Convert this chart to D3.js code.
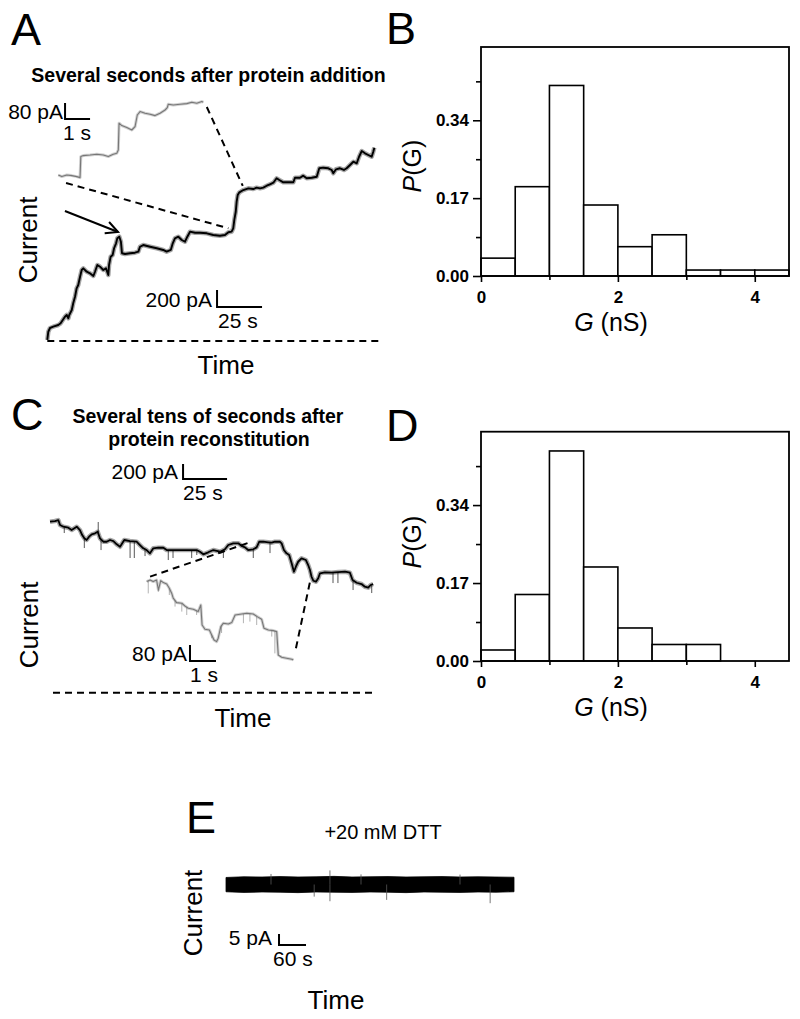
<!DOCTYPE html>
<html><head><meta charset="utf-8">
<script src="https://cdn.jsdelivr.net/npm/d3@7"></script>
<style>
body{margin:0;background:#fff}
svg text{font-family:"Liberation Sans",Arial,sans-serif;fill:#000}
</style>
</head><body>
<svg id="fig" width="800" height="1019"></svg>
<script>
// ---------------- DATA ----------------
// Histograms (P(G) per 0.5 nS bin)
const binEdges = [0, 0.5, 1, 1.5, 2, 2.5, 3, 3.5, 4, 4.5];
const histB = [0.039, 0.195, 0.416, 0.155, 0.064, 0.090, 0.013, 0.013, 0.013];
const histD = [0.024, 0.145, 0.458, 0.205, 0.072, 0.036, 0.036, 0, 0];
const gMajorTicks = [0, 2, 4];
const gMinorTicks = [1, 3];
const pMajorTicks = [0, 0.17, 0.34];
const pMinorTicks = [0.085, 0.255, 0.425];

// Panel A main trace [time s, current pA]
const traceA = [[0,12],[0.56,109],[1.5,153],[3.3,168],[6.1,188],[7.4,208],[8.6,247],[9.8,286],[10.8,306],[11.7,267],[12.2,306],[13.6,365],[14.4,444],[15.4,521],[16.3,620],[17.2,659],[18.2,756],[19.1,835],[20.0,855],[21.9,815],[23.7,796],[25.6,765],[26.5,815],[27.8,894],[29.3,874],[31.1,835],[32.6,855],[33.9,776],[34.3,894],[35.2,992],[36.3,1012],[37.1,1091],[38.2,1149],[38.9,1208],[40.0,1227],[40.9,1168],[41.5,1032],[43.2,1024],[46.0,1032],[48.7,1039],[50.6,1051],[51.5,1109],[53.3,1129],[57.1,1109],[60.8,1091],[64.4,1071],[66.3,1051],[68.6,1071],[69.7,1149],[70.9,1208],[72.8,1227],[74.7,1188],[76.5,1168],[77.8,1227],[79.3,1286],[82.1,1274],[84.8,1274],[88.6,1267],[92.2,1247],[95.9,1239],[98.7,1247],[100.6,1279],[102.4,1286],[103.3,1326],[103.9,1424],[104.7,1521],[105.2,1639],[105.8,1718],[106.7,1749],[108.9,1776],[111.7,1796],[114.4,1788],[116.3,1804],[118.2,1796],[120.0,1804],[121.9,1827],[123.7,1844],[125.6,1862],[127.4,1914],[128.9,1894],[131.1,1867],[133.9,1867],[136.7,1867],[137.6,1921],[140.4,1921],[142.2,1945],[144.1,1914],[146.9,1921],[149.7,1933],[151.1,2032],[153.3,2039],[156.1,2032],[158.0,2012],[158.9,1973],[160.4,2020],[162.6,2032],[164.8,2012],[166.3,2032],[168.2,2071],[170.0,2109],[171.9,2091],[173.2,2168],[174.7,2235],[176.5,2208],[178.3,2188],[180.2,2168],[181.1,2227],[181.7,2274]];
// Panel A inset trace [time s, current pA]
const insetA = [[0,25],[0.14,17],[0.34,25],[0.54,22],[0.74,17],[0.87,12],[0.90,117],[1.00,122],[1.27,125],[1.54,129],[1.80,125],[2.00,117],[2.20,129],[2.34,134],[2.40,150],[2.43,284],[2.54,272],[2.74,262],[2.94,250],[3.07,267],[3.16,325],[3.27,342],[3.47,334],[3.67,329],[3.87,322],[4.07,334],[4.27,350],[4.36,362],[4.40,379],[4.60,375],[4.87,379],[5.14,382],[5.34,389],[5.54,384],[5.74,392],[5.80,389]];

// Panel C main trace [time s, current pA]
const traceC = [[0,2280],[2.8,2289],[4.7,2302],[5.7,2236],[7.6,2213],[10.4,2200],[12.3,2169],[15.2,2213],[17.0,2169],[18.3,2102],[19.5,2058],[20.8,2036],[22.2,2080],[23.7,2112],[25.6,2125],[27.1,2146],[28.4,2058],[30.3,2013],[32.2,2013],[34.1,2036],[36.0,2022],[37.9,1978],[39.8,1946],[42.2,2036],[45.4,2022],[49.2,2013],[51.1,1969],[53.0,1925],[54.9,1902],[56.8,1858],[58.7,1925],[61.5,1933],[64.4,1933],[66.3,1902],[69.1,1902],[72.9,1902],[76.7,1902],[80.5,1902],[83.3,1902],[85.2,1880],[87.1,1845],[89.9,1872],[92.8,1902],[96.6,1880],[99.4,1912],[101.3,1969],[104.1,1992],[107.0,1992],[108.9,1956],[110.8,1938],[112.6,1902],[115.5,1912],[117.4,1938],[118.9,2013],[121.2,2013],[124.0,2005],[126.0,2000],[127.8,2013],[130.6,2013],[131.6,1992],[132.9,1902],[134.4,1858],[135.9,1836],[137.3,1725],[138.6,1613],[139.7,1680],[141.0,1746],[142.9,1792],[145.4,1769],[146.7,1702],[147.7,1636],[148.6,1546],[149.6,1493],[151.1,1480],[152.4,1525],[153.4,1592],[156.2,1605],[160.0,1600],[163.8,1609],[167.6,1613],[170.4,1600],[171.9,1502],[174.2,1466],[177.0,1449],[178.9,1413],[180.8,1400],[182.2,1436],[183.6,1449]];
// Brief transients on C main trace [time s, extreme current pA]
const spikesC = [[8.1,2129],[19.5,1929],[27.4,2276],[29.0,1902],[45.5,1796],[47.9,1796],[54.0,1822],[67.2,1769],[69.9,1796],[80.5,1796],[83.4,1836],[98.5,1796],[115.5,1796],[125.0,1862],[160.8,1462],[163.6,1462],[172.2,1369],[182.8,1329]];
// Panel C inset trace [time s, current pA]
const insetC = [[0,417],[0.13,425],[0.25,417],[0.38,425],[0.45,375],[0.54,422],[0.64,412],[0.77,405],[0.87,384],[0.96,359],[1.02,334],[1.15,312],[1.35,309],[1.47,295],[1.60,284],[1.79,279],[1.98,267],[2.08,300],[2.13,200],[2.24,179],[2.41,175],[2.50,150],[2.59,125],[2.69,117],[2.75,134],[2.85,192],[2.95,209],[3.14,205],[3.27,212],[3.40,250],[3.59,254],[3.85,259],[4.10,255],[4.25,242],[4.42,229],[4.51,184],[4.68,175],[4.87,172],[5.00,167],[5.06,50],[5.19,39],[5.38,34],[5.58,29],[5.64,25]];
const spikesCi = [[0.06,358],[0.45,367],[0.87,350],[1.09,292],[1.35,267],[1.54,250],[1.92,250],[2.5,134],[2.88,160],[3.72,209],[3.97,217],[4.23,200],[4.81,142],[4.93,58]];

// Panel E (+DTT) noise envelope [time s], [max pA], [min pA]
const traceE_t   = [0,40,80,120,160,200,240,280,320,360,400,440,480,520,560,600,640];
const traceE_max = [3.2,3.5,3.4,3.6,3.4,3.5,3.7,3.4,3.5,3.6,3.4,3.5,3.6,3.4,3.5,3.4,3.3];
const traceE_min = [-3.3,-3.6,-3.4,-3.5,-3.7,-3.4,-3.5,-3.6,-3.4,-3.5,-3.7,-3.4,-3.5,-3.6,-3.4,-3.5,-3.3];
const spikesE = [[100,4.8],[196,-5.5],[231,6.4],[231,-7.6],[300,4.6],[357,-7.0],[520,4.5],[587,-8.5]];

// Annotations in data units
const zoomLinksA = [[[0.31,-15],[100.6,1326]], [[5.94,365],[108.6,1824]]]; // [inset pt, main pt]
const zoomLinksC = [[[0.13,442],[114.6,2013]], [[5.74,84],[147.7,1476]]];
const arrowA = [[9.8,1529],[39.3,1282]];

// ---------------- LAYOUT / SCALES ----------------
const svg = d3.select("#fig");
const xA  = d3.scaleLinear().domain([0,25]).range([47.3,92.3]);
const yA  = d3.scaleLinear().domain([0,200]).range([341,324]);
const xAi = d3.scaleLinear().domain([0,1]).range([58.3,83.3]);
const yAi = d3.scaleLinear().domain([0,80]).range([180,164]);
const xC  = d3.scaleLinear().domain([0,25]).range([50,94]);
const yC  = d3.scaleLinear().domain([0,200]).range([692.7,677.7]);
const xCi = d3.scaleLinear().domain([0,1]).range([146.7,172.7]);
const yCi = d3.scaleLinear().domain([0,80]).range([665,649]);
const xE  = d3.scaleLinear().domain([0,60]).range([226,253]);
const yE  = d3.scaleLinear().domain([0,5]).range([884.5,873.5]);

function text(x, y, s, size, opts={}) {
  const t = svg.append("text").attr("x",x).attr("y",y)
    .attr("font-size",size)
    .attr("text-anchor",opts.anchor||"start")
    .attr("font-weight",opts.bold?"bold":"normal");
  if (opts.rotate) t.attr("transform",`rotate(-90,${x},${y})`);
  if (opts.html) t.html(s); else t.text(s);
  return t;
}

// Panel letters
text(11,45,"A",45);
text(386,44,"B",45);
text(11,430,"C",45);
text(386,441,"D",45);
text(186,833,"E",45);

// ---------------- HISTOGRAMS ----------------
function histogram(values, left, right, top, bottom, xlabY, plabY) {
  const xs = d3.scaleLinear().domain([0,4.5]).range([left,right]);
  const ys = d3.scaleLinear().domain([0,0.5]).range([bottom,top]);
  const g = svg.append("g");
  const bins = values.map((v,i)=>({x0:binEdges[i],x1:binEdges[i+1],v})).filter(d=>d.v>0);
  g.selectAll("rect.bar").data(bins).join("rect")
    .attr("x",d=>xs(d.x0)).attr("width",d=>xs(d.x1)-xs(d.x0))
    .attr("y",d=>ys(d.v)).attr("height",d=>ys(0)-ys(d.v))
    .attr("fill","#fff").attr("stroke","#000").attr("stroke-width",1.6);
  g.append("rect").attr("x",left).attr("y",top).attr("width",right-left).attr("height",bottom-top)
    .attr("fill","none").attr("stroke","#000").attr("stroke-width",1.8);
  const style = a => { a.select(".domain").remove(); a.selectAll("line").attr("stroke","#000").attr("stroke-width",1.6);
    a.selectAll("text").attr("font-size",17).attr("font-weight","bold").attr("font-family","'Liberation Sans',Arial,sans-serif"); };
  g.append("g").attr("transform",`translate(0,${bottom})`)
    .call(d3.axisBottom(xs).tickValues(gMajorTicks).tickSize(6).tickPadding(9).tickFormat(d3.format("d"))).call(style);
  g.append("g").attr("transform",`translate(0,${bottom})`)
    .call(d3.axisBottom(xs).tickValues(gMinorTicks).tickSize(4).tickFormat("")).call(style);
  g.append("g").attr("transform",`translate(${left},0)`)
    .call(d3.axisLeft(ys).tickValues(pMajorTicks).tickSize(8).tickPadding(4).tickFormat(d3.format(".2f"))).call(style);
  g.append("g").attr("transform",`translate(${left},0)`)
    .call(d3.axisLeft(ys).tickValues(pMinorTicks).tickSize(5).tickFormat("")).call(style);
  text((left+right)/2 - 24, bottom + xlabY, '<tspan font-style="italic">G</tspan> (nS)', 25, {anchor:"middle", html:true});
  text(421, plabY, '<tspan font-style="italic">P</tspan>(G)', 25, {anchor:"middle", rotate:true, html:true});
}
histogram(histB, 481, 789, 47, 276, 55, 166);
histogram(histD, 481, 789, 431.7, 661, 55, 542);

// ---------------- TRACES ----------------
function trace(data, xs, ys, color, w, halo) {
  const line = d3.line().x(d=>xs(d[0])).y(d=>ys(d[1]));
  svg.append("path").attr("d",line(data)).attr("fill","none")
    .attr("stroke",color).attr("stroke-opacity",0.35).attr("stroke-width",halo).attr("stroke-linejoin","round");
  svg.append("path").attr("d",line(data)).attr("fill","none")
    .attr("stroke",color).attr("stroke-width",w).attr("stroke-linejoin","round");
}
function spikes(data, base, xs, ys, color) {
  const interp = t => { // value of trace at time t
    for (let i=1;i<base.length;i++) if (base[i][0]>=t) {
      const a=base[i-1], b=base[i]; const f=(t-a[0])/((b[0]-a[0])||1); return a[1]+f*(b[1]-a[1]); }
    return base[base.length-1][1]; };
  svg.append("g").selectAll("line").data(data).join("line")
    .attr("x1",d=>xs(d[0])).attr("x2",d=>xs(d[0]))
    .attr("y1",d=>ys(interp(d[0]))).attr("y2",d=>ys(d[1]))
    .attr("stroke",color).attr("stroke-width",0.9);
}
function dashed(p1, p2, color="#000") {
  svg.append("line").attr("x1",p1[0]).attr("y1",p1[1]).attr("x2",p2[0]).attr("y2",p2[1])
    .attr("stroke",color).attr("stroke-width",2).attr("stroke-dasharray","7,5");
}
function scaleBar(xs, ys, t0, i0, dt, di, curLab, timeLab, gap, timeDx) {
  const x0=xs(t0), y0=ys(i0), y1=ys(i0+di), x1=xs(t0+dt);
  svg.append("path").attr("d",`M${x0},${y1}L${x0},${y0}L${x1},${y0}`)
    .attr("fill","none").attr("stroke","#000").attr("stroke-width",2);
  text(x0-gap, y0, curLab, 21, {anchor:"end"});
  text(x0+timeDx, y0+21, timeLab, 21);
}

// ---- Panel A ----
text(208.5, 82, "Several seconds after protein addition", 19.5, {anchor:"middle", bold:true});
trace(traceA, xA, yA, "#000", 1.9, 4.5);
trace(insetA, xAi, yAi, "#777", 1.1, 3);
zoomLinksA.forEach(([p,q]) => dashed([xAi(p[0]),yAi(p[1])],[xA(q[0]),yA(q[1])]));
dashed([xA(0),yA(0)],[xA(186),yA(0)]);
scaleBar(xAi, yAi, 0.27, 305, 1, 80, "80 pA", "1 s", 2, -2);
scaleBar(xA, yA, 94.3, 400, 25, 200, "200 pA", "25 s", 5, 1);
// arrow
svg.append("defs").append("marker").attr("id","arr").attr("markerUnits","userSpaceOnUse")
  .attr("viewBox","-14 -8 16 16").attr("refX",0).attr("refY",0)
  .attr("markerWidth",16).attr("markerHeight",16).attr("orient","auto")
  .append("path").attr("d","M-12,-6L0,0L-12,6").attr("fill","none").attr("stroke","#000").attr("stroke-width",2);
svg.append("line").attr("x1",xA(arrowA[0][0])).attr("y1",yA(arrowA[0][1]))
  .attr("x2",xA(arrowA[1][0])).attr("y2",yA(arrowA[1][1]))
  .attr("stroke","#000").attr("stroke-width",2).attr("marker-end","url(#arr)");
text(37, 240, "Current", 26, {anchor:"middle", rotate:true});
text(226, 374, "Time", 26, {anchor:"middle"});

// ---- Panel C ----
text(208, 423, "Several tens of seconds after", 19.5, {anchor:"middle", bold:true});
text(209, 446, "protein reconstitution", 19.5, {anchor:"middle", bold:true});
spikes(spikesC, traceC, xC, yC, "#444");
trace(traceC, xC, yC, "#000", 1.8, 4.5);
spikes(spikesCi, insetC, xCi, yCi, "#aaa");
trace(insetC, xCi, yCi, "#777", 1.1, 3);
zoomLinksC.forEach(([p,q]) => dashed([xCi(p[0]),yCi(p[1])],[xC(q[0]),yC(q[1])]));
dashed([xC(1.7),yC(0)],[xC(183.5),yC(0)]);
scaleBar(xC, yC, 75.6, 2849, 25, 200, "200 pA", "25 s", 5, 0);
scaleBar(xCi, yCi, 1.665, 20, 1, 80, "80 pA", "1 s", 3, 0);
text(38, 625, "Current", 26, {anchor:"middle", rotate:true});
text(243, 727, "Time", 26, {anchor:"middle"});

// ---- Panel E ----
text(383, 839, "+20 mM DTT", 20, {anchor:"middle"});
const envE = traceE_t.map((t,i)=>[t,traceE_max[i],traceE_min[i]]);
svg.append("path").attr("d", d3.area().x(d=>xE(d[0])).y0(d=>yE(d[2])).y1(d=>yE(d[1]))(envE))
  .attr("fill","#000").attr("stroke","#000").attr("stroke-width",0.8);
svg.append("g").selectAll("line").data(spikesE).join("line")
  .attr("x1",d=>xE(d[0])).attr("x2",d=>xE(d[0])).attr("y1",yE(0)).attr("y2",d=>yE(d[1]))
  .attr("stroke","#555").attr("stroke-width",0.8);
scaleBar(xE, yE, 117.8, -27.5, 60, 5, "5 pA", "60 s", 7, -6);
text(202, 913, "Current", 26, {anchor:"middle", rotate:true});
text(336, 1009, "Time", 26, {anchor:"middle"});
</script>
</body></html>
